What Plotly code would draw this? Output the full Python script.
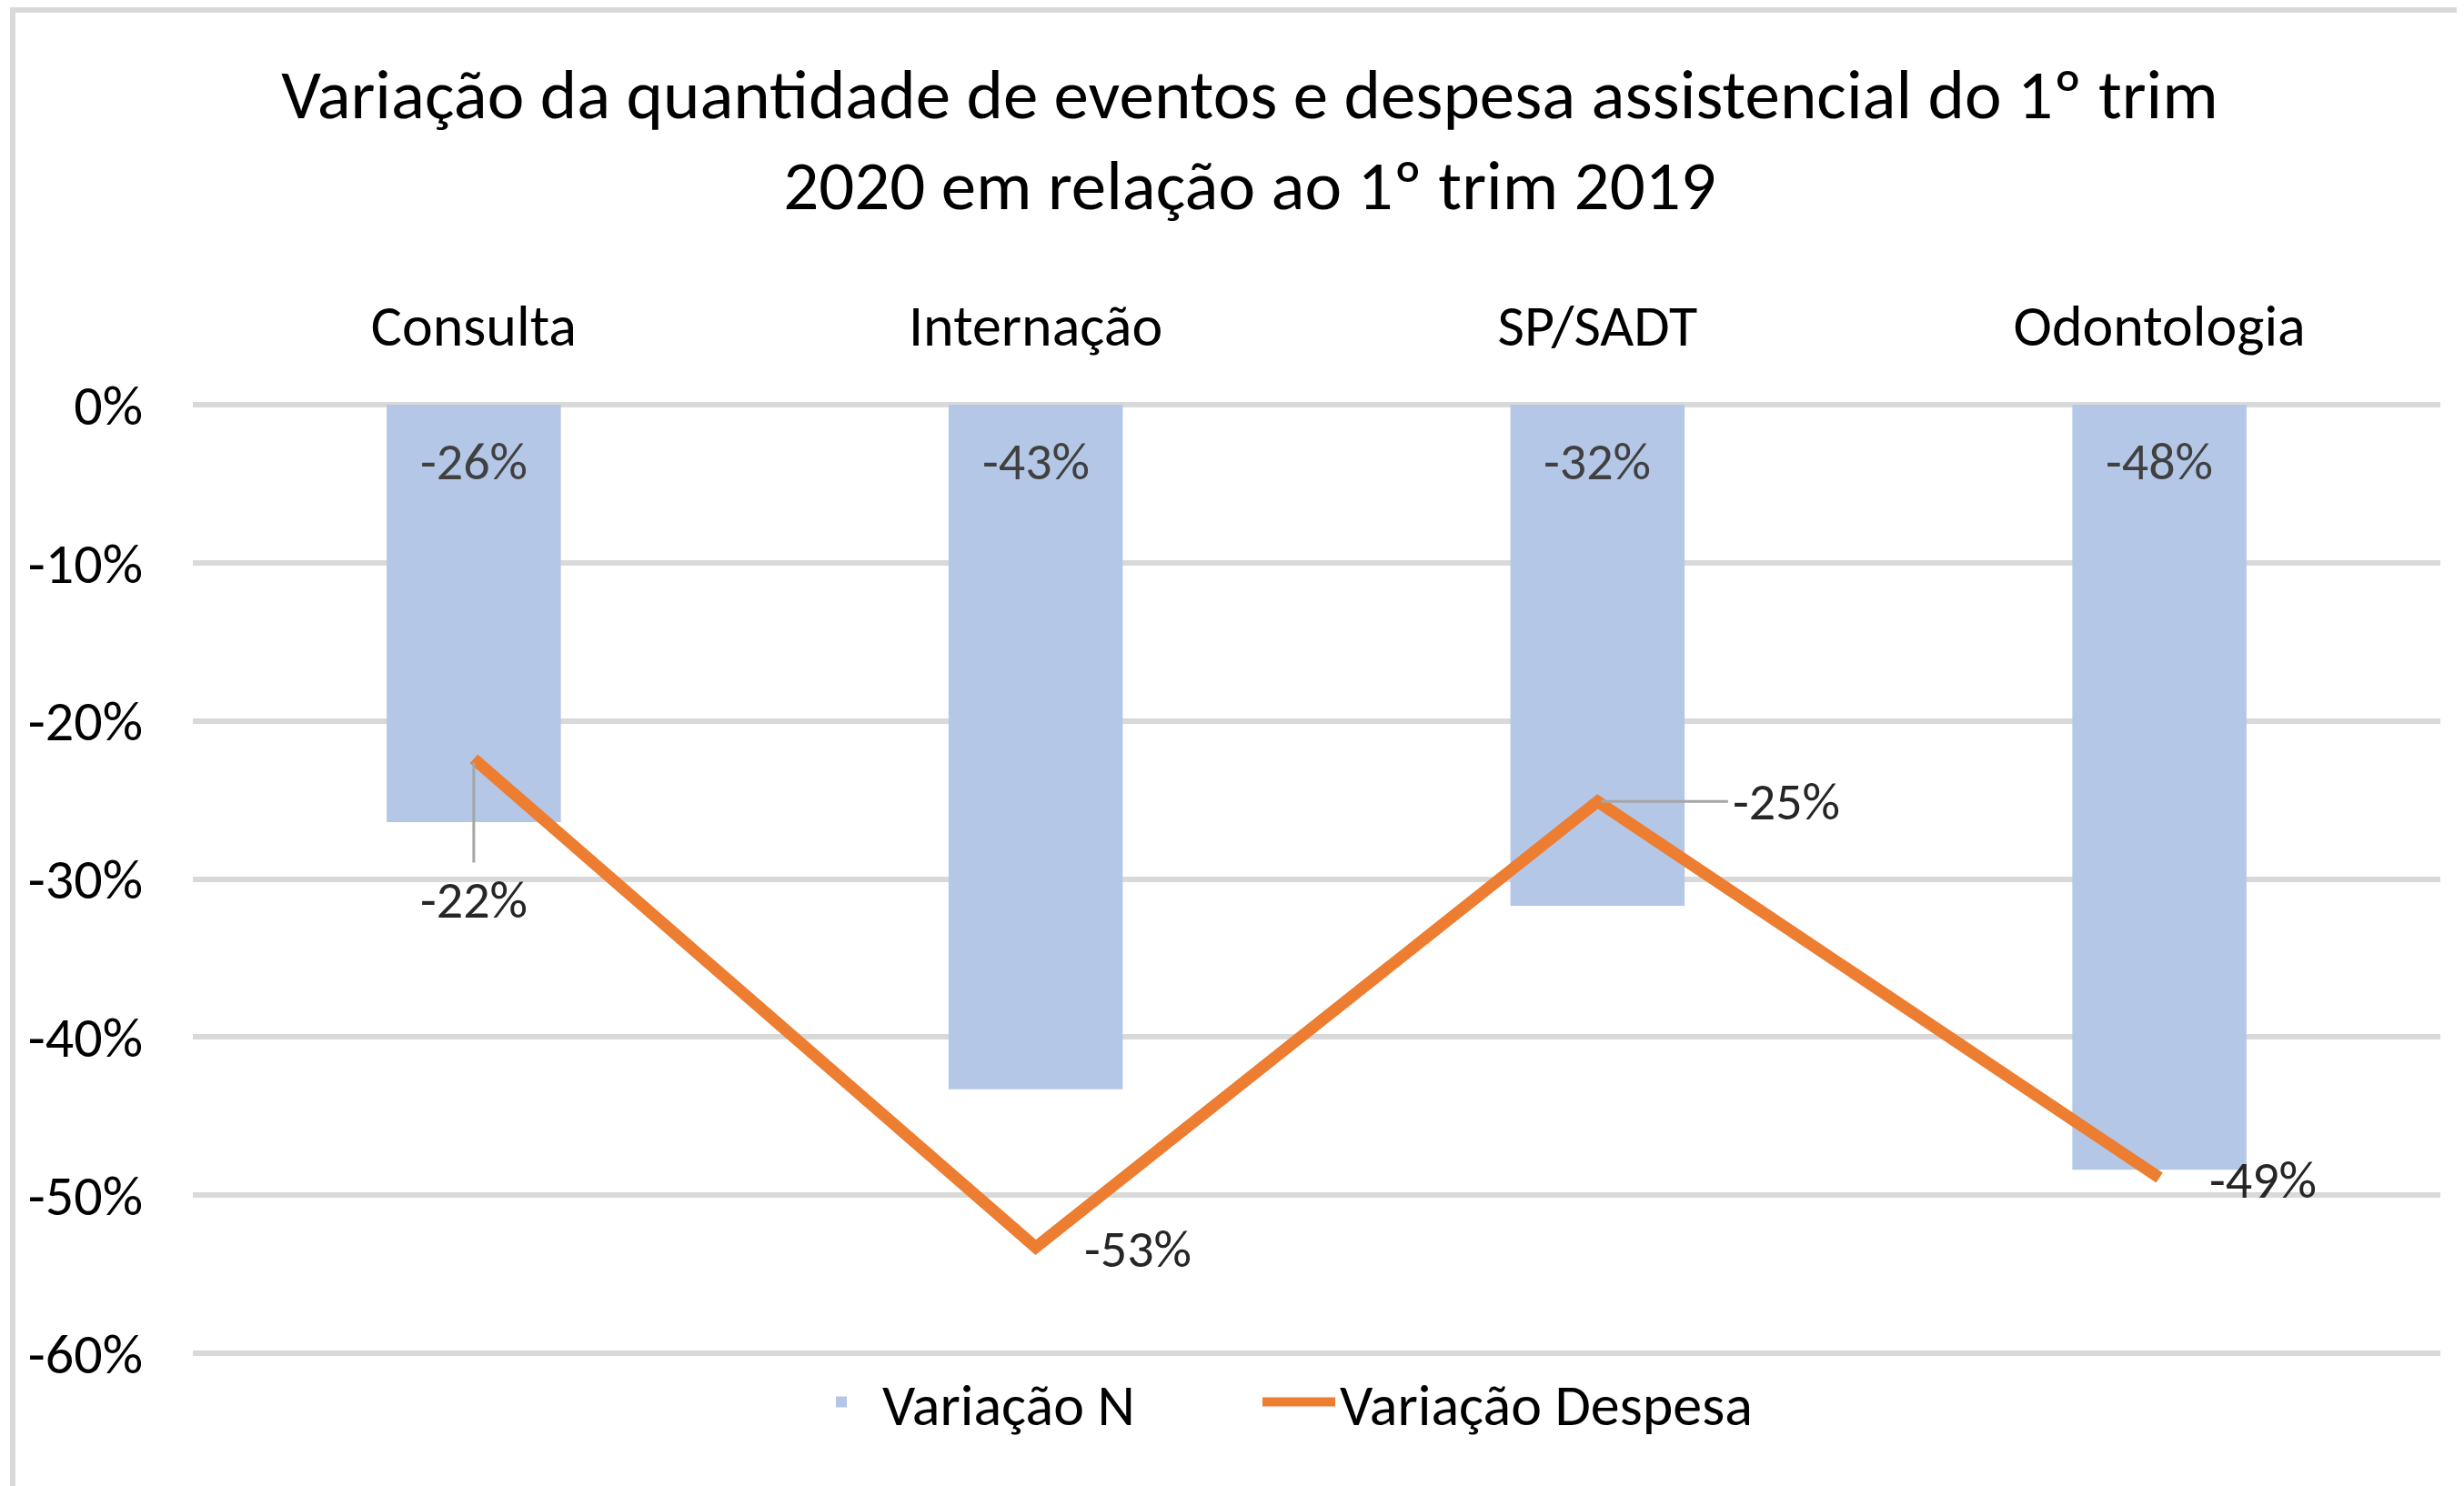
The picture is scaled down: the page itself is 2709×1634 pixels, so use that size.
import plotly.graph_objects as go

categories = ["Consulta", "Internação", "SP/SADT", "Odontologia"]
variacao_n = [-0.264, -0.433, -0.317, -0.484]
variacao_despesa = [-0.224, -0.533, -0.251, -0.489]
y_ticks = [0, -0.1, -0.2, -0.3, -0.4, -0.5, -0.6]
y_tick_labels = ["0%", "-10%", "-20%", "-30%", "-40%", "-50%", "-60%"]
series_names = ["Variação N", "Variação Despesa"]

title_text = ("Variação da quantidade de eventos e despesa assistencial do 1º trim"
              "<br>2020 em relação ao 1º trim 2019")

FONT = "Carlito, Calibri, Lato, sans-serif"
W, H = 2709, 1634
OFF = 8  # browser body margin
ML, MR, MT, MB = 212 - OFF, 26 + OFF, 444 - OFF, 145 + OFF
PAD = "\u00a0" * 9  # spacing between legend entries

fig = go.Figure()
fig.add_trace(go.Bar(
    x=categories, y=variacao_n, name=series_names[0] + PAD,
    marker=dict(color="#B4C7E7", line=dict(width=0)),
))
fig.add_trace(go.Scatter(
    x=categories, y=variacao_despesa, name=series_names[1],
    mode="lines", line=dict(color="#ED7D31", width=13),
))

annotations = []
for c, v in zip(categories, variacao_n):
    annotations.append(dict(
        x=c, y=0, xref="x", yref="y", text=f"{round(v*100):d}%",
        showarrow=False, yshift=-62, yanchor="middle",
        font=dict(family=FONT, size=58, color="#404040"),
    ))
line_label_cfg = [
    dict(showarrow=True, ax=0, ay=155),
    dict(showarrow=False, xshift=112, yshift=-2),
    dict(showarrow=True, ax=208, ay=0),
    dict(showarrow=False, xshift=114, yshift=-2),
]
for c, v, cfg in zip(categories, variacao_despesa, line_label_cfg):
    a = dict(x=c, y=v, xref="x", yref="y", text=f"{round(v*100):d}%",
             font=dict(family=FONT, size=58, color="#262626"))
    if cfg["showarrow"]:
        a.update(showarrow=True, ax=cfg["ax"], ay=cfg["ay"], arrowhead=0,
                 arrowwidth=3, arrowcolor="#A6A6A6", standoff=4, startstandoff=4)
    else:
        a.update(showarrow=False, xshift=cfg["xshift"], yshift=cfg["yshift"])
    annotations.append(a)

pw = W - ML - MR
ph = H - MT - MB
def px_x(p):
    return (p - OFF - ML) / pw
def px_y(p):
    return (H - MB - (p - OFF)) / ph

shapes = [
    dict(type="line", xref="paper", yref="paper",
         x0=px_x(14), x1=px_x(14), y0=px_y(H + 20), y1=px_y(11),
         line=dict(color="#D9D9D9", width=6)),
    dict(type="line", xref="paper", yref="paper",
         x0=px_x(11), x1=px_x(W + 20), y0=px_y(11), y1=px_y(11),
         line=dict(color="#D9D9D9", width=6)),
]

fig.update_layout(
    template="none",
    width=W, height=H,
    margin=dict(l=ML, r=MR, t=MT, b=MB, autoexpand=False),
    paper_bgcolor="white", plot_bgcolor="white",
    font=dict(family=FONT, color="#000000"),
    title=dict(text=title_text, x=px_x(1374), xanchor="center", xref="paper",
               y=1 - (130 - OFF) / H, yanchor="middle", yref="container",
               font=dict(family=FONT, size=77, color="#000000")),
    bargap=0.69,
    showlegend=True,
    legend=dict(orientation="h", x=px_x(880), xanchor="left",
                y=px_y(1542), yanchor="middle",
                font=dict(family=FONT, size=64, color="#000000"),
                itemwidth=80, tracegroupgap=0, bgcolor="rgba(0,0,0,0)"),
    annotations=annotations,
    shapes=shapes,
)
fig.update_xaxes(
    side="top", showgrid=False, zeroline=False, showline=False, ticks="",
    tickfont=dict(family=FONT, size=64, color="#000000"),
    ticklabelstandoff=50, automargin=False,
)
fig.update_yaxes(
    range=[-0.6006, 0.0006], tickvals=y_ticks, ticktext=y_tick_labels,
    showgrid=True, gridcolor="#D9D9D9", gridwidth=6,
    zeroline=False, showline=False, ticks="",
    tickfont=dict(family=FONT, size=62, color="#000000"),
    ticklabelstandoff=54, automargin=False,
)

fig.write_html("out.html")
